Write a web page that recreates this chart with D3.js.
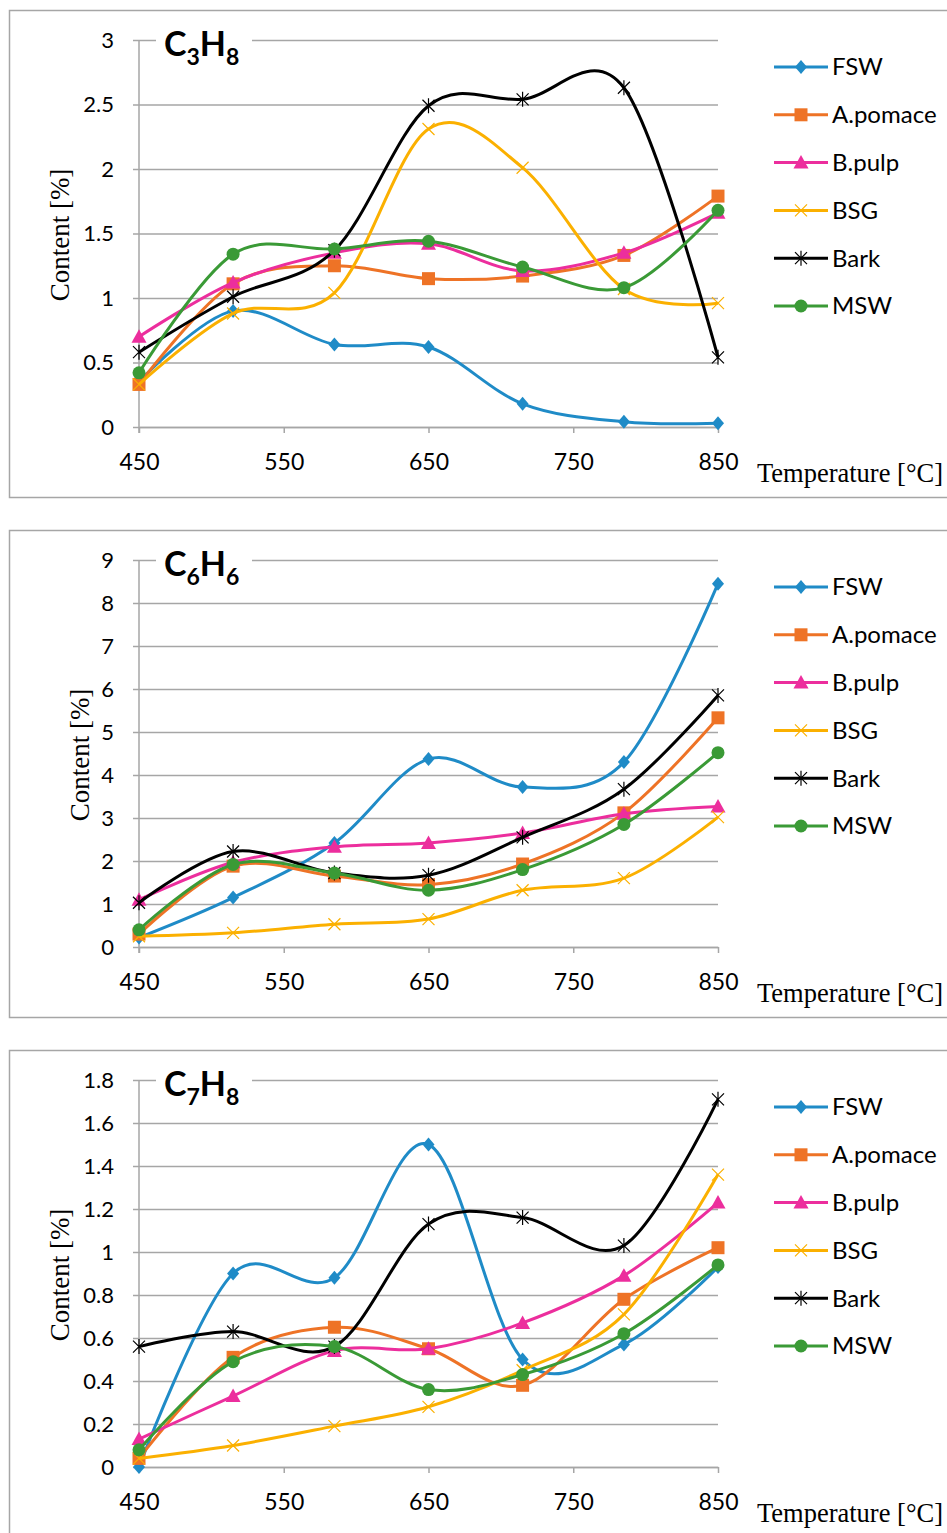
<!DOCTYPE html>
<html>
<head>
<meta charset="utf-8">
<script src="https://cdn.jsdelivr.net/npm/d3@7"></script>
<style>
  body { margin: 0; background: #fff; }
  svg { display: block; }
</style>
</head>
<body>
<div id="chart"></div>
<script>
// temperatures of the sampling points, series names and styles
var temps = [450, 515, 585, 650, 715, 785, 850];
var names = ["FSW", "A.pomace", "B.pulp", "BSG", "Bark", "MSW"];
var colors = ["#1F8BC7", "#EE7326", "#EC2E9D", "#FBB000", "#000000", "#3A9A36"];
var markers = ["diamond", "square", "triangle", "cross", "star", "circle"];
var xTicks = [450, 550, 650, 750, 850];

// C3H8 content [%], one row per series (same order as names)
var c3h8 = [
  [0.35, 0.90, 0.64, 0.62, 0.18, 0.04, 0.03],
  [0.33, 1.11, 1.25, 1.15, 1.17, 1.33, 1.79],
  [0.70, 1.12, 1.35, 1.42, 1.21, 1.35, 1.66],
  [0.33, 0.88, 1.04, 2.31, 2.01, 1.07, 0.96],
  [0.58, 1.01, 1.37, 2.49, 2.54, 2.63, 0.54],
  [0.42, 1.34, 1.38, 1.44, 1.24, 1.08, 1.68]
];
var c3h8Ticks = [0, 0.5, 1, 1.5, 2, 2.5, 3];

// C6H6 content [%]
var c6h6 = [
  [0.22, 1.15, 2.42, 4.37, 3.72, 4.30, 8.45],
  [0.30, 1.88, 1.65, 1.45, 1.93, 3.12, 5.33],
  [1.10, 1.97, 2.33, 2.42, 2.65, 3.10, 3.27],
  [0.25, 0.33, 0.53, 0.65, 1.32, 1.60, 3.02],
  [1.03, 2.22, 1.72, 1.67, 2.55, 3.67, 5.85],
  [0.40, 1.92, 1.72, 1.32, 1.80, 2.85, 4.52]
];
var c6h6Ticks = [0, 1, 2, 3, 4, 5, 6, 7, 8, 9];

// C7H8 content [%]
var c7h8 = [
  [0.00, 0.90, 0.88, 1.50, 0.50, 0.57, 0.93],
  [0.04, 0.51, 0.65, 0.55, 0.38, 0.78, 1.02],
  [0.13, 0.33, 0.54, 0.55, 0.67, 0.89, 1.23],
  [0.04, 0.10, 0.19, 0.28, 0.45, 0.71, 1.36],
  [0.56, 0.63, 0.56, 1.13, 1.16, 1.03, 1.71],
  [0.08, 0.49, 0.56, 0.36, 0.43, 0.62, 0.94]
];
var c7h8Ticks = [0, 0.2, 0.4, 0.6, 0.8, 1, 1.2, 1.4, 1.6, 1.8];

var W = 947, H = 1533;
var left = 139, right = 718;
var gridColor = "#a6a6a6";
var sans = "Lato, 'Open Sans', sans-serif";
var serif = "'Liberation Serif', 'DejaVu Serif', serif";

var svg = d3.select("#chart").append("svg")
  .attr("width", W)
  .attr("height", H);

var x = d3.scaleLinear().domain([450, 850]).range([left, right]);

function markerPath(kind) {
  if (kind == "diamond") return "M0,-7L6,0L0,7L-6,0Z";
  if (kind == "square") return "M-6.5,-6.5h13v13h-13Z";
  if (kind == "triangle") return "M0,-7.5L7.5,6L-7.5,6Z";
  if (kind == "cross") return "M-6,-6L6,6M-6,6L6,-6";
  if (kind == "star") return "M-6,-6L6,6M-6,6L6,-6M0,-7.5V7.5";
  return null;
}

function drawMarker(g, kind, color, cx, cy) {
  if (kind == "circle") {
    g.append("circle").attr("cx", cx).attr("cy", cy).attr("r", 6.5)
      .attr("fill", color);
  } else if (kind == "cross" || kind == "star") {
    g.append("path").attr("d", markerPath(kind))
      .attr("transform", "translate(" + cx + "," + cy + ")")
      .attr("fill", "none").attr("stroke", color).attr("stroke-width", 1.2);
  } else {
    g.append("path").attr("d", markerPath(kind))
      .attr("transform", "translate(" + cx + "," + cy + ")")
      .attr("fill", color);
  }
}

function drawPanel(top, values, yTicks, sub1, sub2, ylabelX) {
  var g = svg.append("g");
  var y0 = top + 417, y1 = top + 30;
  var y = d3.scaleLinear().domain([0, yTicks[yTicks.length - 1]]).range([y0, y1]);

  // frame
  g.append("rect")
    .attr("x", 9.5).attr("y", top + 0.5)
    .attr("width", W + 10).attr("height", 487)
    .attr("fill", "#fff").attr("stroke", gridColor).attr("stroke-width", 1.5);

  // y axis with gridlines
  var yAxis = g.append("g")
    .attr("transform", "translate(" + (left - 6) + ",0)")
    .call(d3.axisLeft(y).tickValues(yTicks).tickSize(-(right - left + 6)).tickPadding(19)
      .tickFormat(function(d) { return d3.format("")(+d.toFixed(1)); }));
  yAxis.select(".domain").remove();
  yAxis.selectAll("line").attr("stroke", gridColor).attr("stroke-width", 1.5);
  yAxis.selectAll("text").attr("font-family", sans).attr("font-size", 22)
    .attr("fill", "#000");

  g.append("line")
    .attr("x1", left).attr("x2", left).attr("y1", y1).attr("y2", y0 + 6)
    .attr("stroke", gridColor).attr("stroke-width", 1.5);

  // x axis
  var xAxis = g.append("g")
    .attr("transform", "translate(0," + y0 + ")")
    .call(d3.axisBottom(x).tickValues(xTicks).tickSize(6).tickSizeOuter(0));
  xAxis.select(".domain").attr("stroke", gridColor).attr("stroke-width", 1.5);
  xAxis.selectAll("line").attr("stroke", gridColor).attr("stroke-width", 1.5);
  xAxis.selectAll("text").attr("font-family", sans).attr("font-size", 23)
    .attr("fill", "#000").attr("y", 27).attr("dy", "0.71em");

  // title with white box behind it
  g.append("rect").attr("x", 156).attr("y", top + 20).attr("width", 96).attr("height", 44)
    .attr("fill", "#fff");
  var title = g.append("text")
    .attr("x", 164).attr("y", top + 46)
    .attr("font-family", sans).attr("font-weight", "bold").attr("font-size", 34);
  title.append("tspan").text("C");
  title.append("tspan").attr("font-size", 23).attr("dy", 9).text(sub1);
  title.append("tspan").attr("dy", -9).text("H");
  title.append("tspan").attr("font-size", 23).attr("dy", 9).text(sub2);

  // axis titles
  g.append("text")
    .attr("transform", "translate(" + ylabelX + "," + (top + 225) + ") rotate(-90)")
    .attr("text-anchor", "middle").attr("dy", "0.35em")
    .attr("font-family", serif).attr("font-size", 27)
    .text("Content [%]");
  g.append("text")
    .attr("x", 943).attr("y", top + 472)
    .attr("text-anchor", "end")
    .attr("font-family", serif).attr("font-size", 26.5)
    .text("Temperature [°C]");

  // series
  var line = d3.line()
    .x(function(d) { return x(d[0]); })
    .y(function(d) { return y(d[1]); })
    .curve(d3.curveCatmullRom.alpha(0));

  values.forEach(function(vals, i) {
    var pts = temps.map(function(t, k) { return [t, vals[k]]; });
    var s = g.append("g");
    s.append("path").attr("d", line(pts))
      .attr("fill", "none").attr("stroke", colors[i]).attr("stroke-width", 3);
    pts.forEach(function(p) {
      drawMarker(s, markers[i], colors[i], x(p[0]), y(p[1]));
    });
  });

  // legend
  var leg = g.append("g");
  names.forEach(function(n, i) {
    var ly = top + 57 + i * 47.8;
    leg.append("line").attr("x1", 774).attr("x2", 828).attr("y1", ly).attr("y2", ly)
      .attr("stroke", colors[i]).attr("stroke-width", 3);
    drawMarker(leg, markers[i], colors[i], 801, ly);
    leg.append("text").attr("x", 832).attr("y", ly).attr("dy", "0.35em")
      .attr("font-family", sans).attr("font-size", 24).text(n);
  });
}

drawPanel(10, c3h8, c3h8Ticks, "3", "8", 60);
drawPanel(530, c6h6, c6h6Ticks, "6", "6", 80);
drawPanel(1050, c7h8, c7h8Ticks, "7", "8", 60);
</script>
</body>
</html>
